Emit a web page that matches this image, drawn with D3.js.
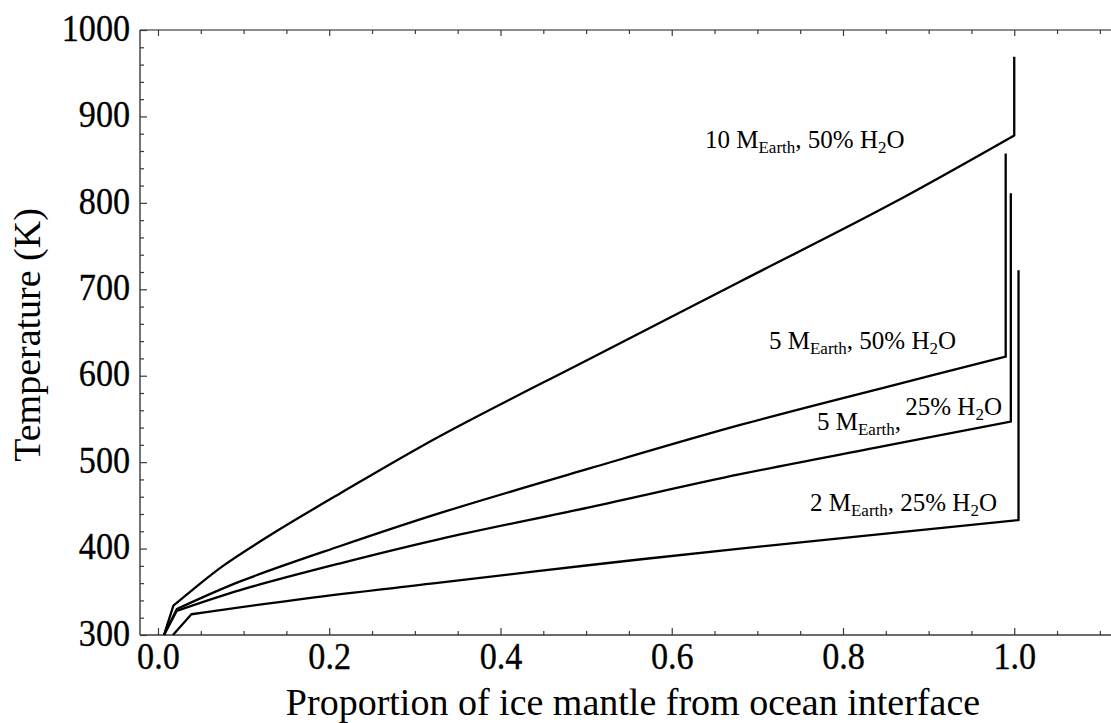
<!DOCTYPE html>
<html>
<head>
<meta charset="utf-8">
<script src="https://cdn.jsdelivr.net/npm/d3@7"></script>
<style>
  html, body { margin: 0; padding: 0; background: #fff; }
  svg { display: block; }
  text { font-family: "Liberation Serif", "Times New Roman", serif; fill: #000; }
</style>
</head>
<body>
<svg id="chart" width="1111" height="723"></svg>
<script>
// ---- data ----
const x10M50 = [0.007, 0.018, 0.040, 0.076, 0.135, 0.213, 0.329, 0.505, 0.680, 0.855, 1.000];
const t10M50 = [300, 334, 352, 380, 418, 464, 530, 620, 709, 798, 878];
const top10M50 = 969;

const x5M50 = [0.007, 0.022, 0.096, 0.213, 0.329, 0.505, 0.680, 0.855, 0.990];
const t5M50 = [300, 330, 362, 403, 441, 493, 543, 588, 622];
const top5M50 = 857;

const x5M25 = [0.007, 0.022, 0.096, 0.213, 0.329, 0.505, 0.680, 0.840, 0.996];
const t5M25 = [300, 328, 352, 383, 411, 448, 486, 517, 547];
const top5M25 = 811;

const x2M25 = [0.0175, 0.039, 0.174, 0.329, 0.505, 0.680, 1.005];
const t2M25 = [300, 324, 342.5, 360.5, 381, 400, 433];
const top2M25 = 722;

const xMajorTicks = [0, 0.2, 0.4, 0.6, 0.8, 1.0];
const xTickLabels = ["0.0", "0.2", "0.4", "0.6", "0.8", "1.0"];
const xMinorTicks = [0.05, 0.1, 0.15, 0.25, 0.3, 0.35, 0.45, 0.5, 0.55, 0.65, 0.7, 0.75, 0.85, 0.9, 0.95, 1.05, 1.1];
const yMajorTicks = [300, 400, 500, 600, 700, 800, 900, 1000];
const yMinorTicks = d3.range(320, 1000, 20).filter(v => v % 100 !== 0);

const xTitle = "Proportion of ice mantle from ocean interface";
const yTitle = "Temperature (K)";

// label parts: alternating normal / subscript
const label10 = ["10 M", "Earth", ", 50% H", "2", "O"];
const label5a = ["5 M", "Earth", ", 50% H", "2", "O"];
const label5b1 = ["5 M", "Earth", ","];
const label5b2 = ["25% H", "2", "O"];
const label2 = ["2 M", "Earth", ", 25% H", "2", "O"];

// ---- layout ----
const svg = d3.select("#chart");
const L = 140, R = 1111, T = 30, B = 635;
const x = d3.scaleLinear().domain([-0.021, 1.113]).range([L, R]);
const y = d3.scaleLinear().domain([300, 1000]).range([B, T]);

const axisColor = "#3a3a3a";

svg.append("line").attr("x1", L).attr("x2", L).attr("y1", T).attr("y2", B)
  .attr("stroke", axisColor).attr("stroke-width", 1.4);
svg.append("line").attr("x1", L).attr("x2", R).attr("y1", B).attr("y2", B)
  .attr("stroke", axisColor).attr("stroke-width", 1.4);
svg.append("line").attr("x1", L).attr("x2", R).attr("y1", T).attr("y2", T)
  .attr("stroke", "#666").attr("stroke-width", 1.4);

function styleAxis(g) {
  g.select(".domain").remove();
  g.selectAll(".tick line").attr("stroke", axisColor).attr("stroke-width", 1.2);
}

const fontTick = 38;
const gxB = svg.append("g").attr("transform", `translate(0,${B})`)
  .call(d3.axisBottom(x).tickValues(xMajorTicks).tickSize(-7).tickSizeOuter(0).tickPadding(7)
    .tickFormat((d, i) => xTickLabels[i]));
styleAxis(gxB);
gxB.selectAll(".tick text").attr("font-size", fontTick).attr("fill", "#000")
  .attr("stroke", "#000").attr("stroke-width", 0.35)
  .attr("font-family", "Liberation Serif").attr("transform", "scale(0.9,1)");
styleAxis(svg.append("g").attr("transform", `translate(0,${B})`)
  .call(d3.axisBottom(x).tickValues(xMinorTicks).tickSize(-4).tickSizeOuter(0).tickFormat("")));
styleAxis(svg.append("g").attr("transform", `translate(0,${T})`)
  .call(d3.axisTop(x).tickValues(xMajorTicks).tickSize(-6).tickSizeOuter(0).tickFormat("")));
styleAxis(svg.append("g").attr("transform", `translate(0,${T})`)
  .call(d3.axisTop(x).tickValues(xMinorTicks).tickSize(-4).tickSizeOuter(0).tickFormat("")));

const gyL = svg.append("g").attr("transform", `translate(${L},0)`)
  .call(d3.axisLeft(y).tickValues(yMajorTicks).tickSize(-7).tickSizeOuter(0).tickPadding(11)
    .tickFormat(d3.format("d")));
styleAxis(gyL);
gyL.selectAll(".tick text").attr("font-size", fontTick).attr("fill", "#000").attr("dy", "0.27em")
  .attr("stroke", "#000").attr("stroke-width", 0.35)
  .attr("font-family", "Liberation Serif").attr("transform", "scale(0.9,1)");
styleAxis(svg.append("g").attr("transform", `translate(${L},0)`)
  .call(d3.axisLeft(y).tickValues(yMinorTicks).tickSize(-4).tickSizeOuter(0).tickFormat("")));

// ---- curves ----
const lin = d3.line().x(d => x(d[0])).y(d => y(d[1]));
const smooth = d3.line().x(d => x(d[0])).y(d => y(d[1])).curve(d3.curveCatmullRom.alpha(0.5));

function drawSeries(xs, ts, topT) {
  const pts = xs.map((v, i) => [v, ts[i]]);
  const head = lin(pts.slice(0, 2));
  const body = smooth(pts.slice(1)).replace(/^M[^A-Za-z]+/, "");
  const last = pts[pts.length - 1];
  const tail = lin([last, [last[0], topT]]).replace(/^M[^A-Za-z]+/, "");
  svg.append("path").attr("d", head + body + tail)
    .attr("fill", "none").attr("stroke", "#000").attr("stroke-width", 2.3)
    .attr("stroke-linejoin", "miter");
}
drawSeries(x10M50, t10M50, top10M50);
drawSeries(x5M50, t5M50, top5M50);
drawSeries(x5M25, t5M25, top5M25);
drawSeries(x2M25, t2M25, top2M25);

// ---- labels ----
const fMain = 25, fSub = 17, subShift = 5;
function richLabel(parts, px, py, anchor) {
  const t = svg.append("text").attr("x", px).attr("y", py)
    .attr("font-size", fMain).attr("text-anchor", anchor || "start");
  parts.forEach((p, i) => {
    const isSub = (i % 2 === 1);
    const ts = t.append("tspan").text(p).attr("font-size", isSub ? fSub : fMain);
    if (i > 0) ts.attr("dy", isSub ? subShift : -subShift);
  });
  return t;
}
richLabel(label10, 705, 148);
richLabel(label5a, 769, 349);
richLabel(label5b1, 817, 430);
richLabel(label5b2, 1002, 415, "end");
richLabel(label2, 997, 511, "end");

// ---- axis titles ----
svg.append("text").attr("x", 633).attr("y", 715).attr("text-anchor", "middle")
  .attr("font-size", 38).text(xTitle);
svg.append("text").attr("transform", "translate(40,335) rotate(-90)")
  .attr("text-anchor", "middle").attr("font-size", 38).text(yTitle);
</script>
</body>
</html>
